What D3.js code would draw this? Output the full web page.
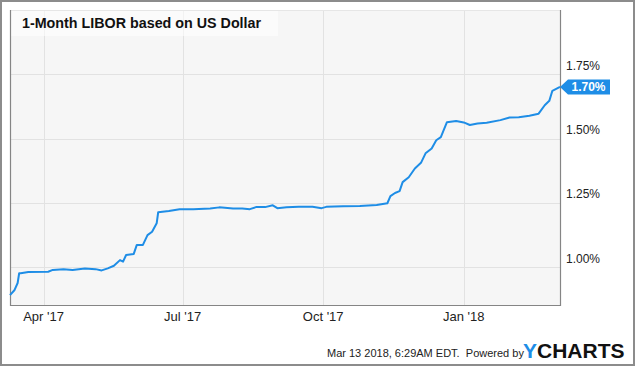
<!DOCTYPE html>
<html>
<head>
<meta charset="utf-8">
<script src="https://cdn.jsdelivr.net/npm/d3@7"></script>
<style>
  body { margin: 0; background: #fff; }
  svg { display: block; font-family: "Liberation Sans", Arial, sans-serif; }
</style>
</head>
<body>
<svg id="chart" width="635" height="366"></svg>
<script>
// LIBOR 1 mês, leitura aproximada do gráfico
const datas = [
  "2017-03-10", "2017-03-13", "2017-03-15", "2017-03-16", "2017-03-17", "2017-03-22",
  "2017-04-04", "2017-04-07", "2017-04-14", "2017-04-20", "2017-04-28", "2017-05-05",
  "2017-05-09", "2017-05-13", "2017-05-17", "2017-05-21", "2017-05-23", "2017-05-25",
  "2017-05-30", "2017-06-01", "2017-06-05", "2017-06-08", "2017-06-11", "2017-06-14",
  "2017-06-15", "2017-06-22", "2017-06-29", "2017-07-08", "2017-07-19", "2017-07-25",
  "2017-08-03", "2017-08-09", "2017-08-14", "2017-08-18", "2017-08-24", "2017-08-29",
  "2017-09-01", "2017-09-07", "2017-09-15", "2017-09-24", "2017-09-30", "2017-10-03",
  "2017-10-14", "2017-10-25", "2017-11-05", "2017-11-12", "2017-11-14", "2017-11-17",
  "2017-11-20", "2017-11-22", "2017-11-26", "2017-11-30", "2017-12-04", "2017-12-07",
  "2017-12-11", "2017-12-14", "2017-12-17", "2017-12-21", "2017-12-27", "2018-01-01",
  "2018-01-05", "2018-01-10", "2018-01-16", "2018-01-25", "2018-01-31", "2018-02-06",
  "2018-02-13", "2018-02-19", "2018-02-23", "2018-02-26", "2018-02-28", "2018-03-05"
];
const valores = [
  0.892, 0.912, 0.939, 0.977, 0.977, 0.982,
  0.983, 0.990, 0.993, 0.990, 0.995, 0.993,
  0.988, 0.996, 1.006, 1.028, 1.022, 1.048,
  1.052, 1.087, 1.087, 1.125, 1.138, 1.171,
  1.214, 1.219, 1.226, 1.226, 1.229, 1.233,
  1.229, 1.229, 1.226, 1.234, 1.234, 1.241,
  1.230, 1.233, 1.235, 1.235, 1.230, 1.235,
  1.237, 1.238, 1.242, 1.249, 1.277, 1.289,
  1.296, 1.331, 1.350, 1.384, 1.406, 1.443,
  1.462, 1.494, 1.506, 1.564, 1.569, 1.563,
  1.553, 1.559, 1.562, 1.572, 1.582, 1.583,
  1.589, 1.597, 1.630, 1.647, 1.686, 1.701
];
const ticksY = [1.00, 1.25, 1.50, 1.75];
const ticksX = ["2017-04-01", "2017-07-01", "2017-10-01", "2018-01-01"];

const titulo = "1-Month LIBOR based on US Dollar";
const rodape = "Mar 13 2018, 6:29AM EDT.  Powered by";
const azul = "#1e8de6";

const parse = d3.timeParse("%Y-%m-%d");
const dados = datas.map((d, i) => ({ data: parse(d), valor: valores[i] }));

const svg = d3.select("#chart");
const margin = { top: 10, right: 75, bottom: 61, left: 10 };
const largura = 635, altura = 366;

const x = d3.scaleTime()
  .domain([parse("2017-03-10"), parse("2018-03-05")])
  .range([margin.left, largura - margin.right]);

const y = d3.scaleLinear()
  .domain([0.8536, 2.0])
  .range([altura - margin.bottom, margin.top]);

// moldura exterior
svg.append("rect")
  .attr("x", 1).attr("y", 1)
  .attr("width", largura - 2).attr("height", altura - 2)
  .attr("fill", "#fff").attr("stroke", "#8c8c8c").attr("stroke-width", 2);

// fundo da área do gráfico
svg.append("rect")
  .attr("x", margin.left).attr("y", margin.top)
  .attr("width", x.range()[1] - margin.left)
  .attr("height", y.range()[0] - margin.top)
  .attr("fill", "#f6f6f6");

// grelha horizontal
svg.append("g")
  .selectAll("line")
  .data(ticksY)
  .enter()
  .append("line")
  .attr("x1", margin.left).attr("x2", x.range()[1])
  .attr("y1", d => Math.round(y(d)) + 0.5).attr("y2", d => Math.round(y(d)) + 0.5)
  .attr("stroke", "#e2e2e2");

// grelha vertical
svg.append("g")
  .selectAll("line")
  .data(ticksX)
  .enter()
  .append("line")
  .attr("x1", d => Math.round(x(parse(d))) + 0.5).attr("x2", d => Math.round(x(parse(d))) + 0.5)
  .attr("y1", margin.top).attr("y2", y.range()[0])
  .attr("stroke", "#e2e2e2");

// caixa do título
svg.append("rect")
  .attr("x", margin.left).attr("y", margin.top)
  .attr("width", 268).attr("height", 26)
  .attr("fill", "#fff").attr("opacity", 0.55);

svg.append("text")
  .attr("x", 22).attr("y", 28)
  .attr("font-size", "14.3px").attr("font-weight", "bold")
  .attr("fill", "#111")
  .text(titulo);

// bordas do gráfico
const x1 = x.range()[1], yb = y.range()[0];
svg.append("line").attr("x1", margin.left).attr("x2", x1)
  .attr("y1", margin.top + 0.5).attr("y2", margin.top + 0.5).attr("stroke", "#e6e6e6");
svg.append("path")
  .attr("d", `M${margin.left + 0.5},${margin.top}V${yb + 0.5}H${x1 + 0.5}V${margin.top}`)
  .attr("fill", "none").attr("stroke", "#858585").attr("stroke-width", 1.2);

// eixo y (rótulos à direita)
svg.append("g")
  .selectAll("text")
  .data(ticksY)
  .enter()
  .append("text")
  .attr("x", 566)
  .attr("y", d => y(d) - 4.5)
  .attr("font-size", "12px")
  .attr("fill", "#222")
  .text(d => d3.format(".2f")(d) + "%");

// eixo x
const fmtX = d3.timeFormat("%b '%y");
svg.append("g")
  .selectAll("text")
  .data(ticksX)
  .enter()
  .append("text")
  .attr("x", d => x(parse(d)))
  .attr("y", 321)
  .attr("text-anchor", "middle")
  .attr("font-size", "13px")
  .attr("fill", "#222")
  .text(d => fmtX(parse(d)));

// linha da série
const linha = d3.line()
  .x(d => x(d.data))
  .y(d => y(d.valor));

svg.append("path")
  .datum(dados)
  .attr("d", linha)
  .attr("fill", "none")
  .attr("stroke", azul)
  .attr("stroke-width", 2)
  .attr("stroke-linejoin", "round");

// etiqueta do último valor
const ultimo = dados[dados.length - 1];
const ex = x(ultimo.data), ey = y(ultimo.valor);
svg.append("path")
  .attr("d", `M${ex},${ey}L${ex + 8},${ey - 7.5}H${ex + 50}V${ey + 7.5}H${ex + 8}Z`)
  .attr("fill", azul);
svg.append("text")
  .attr("x", ex + 11.5).attr("y", ey + 4.5)
  .attr("font-size", "12px").attr("font-weight", "bold")
  .attr("fill", "#fff")
  .text(d3.format(".2f")(ultimo.valor) + "%");

// rodapé
svg.append("text")
  .attr("x", 327).attr("y", 357)
  .attr("font-size", "11px")
  .attr("fill", "#222")
  .style("white-space", "pre")
  .text(rodape);

const logo = svg.append("text")
  .attr("x", 523).attr("y", 357.5)
  .attr("font-size", "21px").attr("font-weight", "bold")
  .attr("fill", "#111");
logo.append("tspan").attr("fill", azul).text("Y");
logo.append("tspan").text("CHARTS");
</script>
</body>
</html>
